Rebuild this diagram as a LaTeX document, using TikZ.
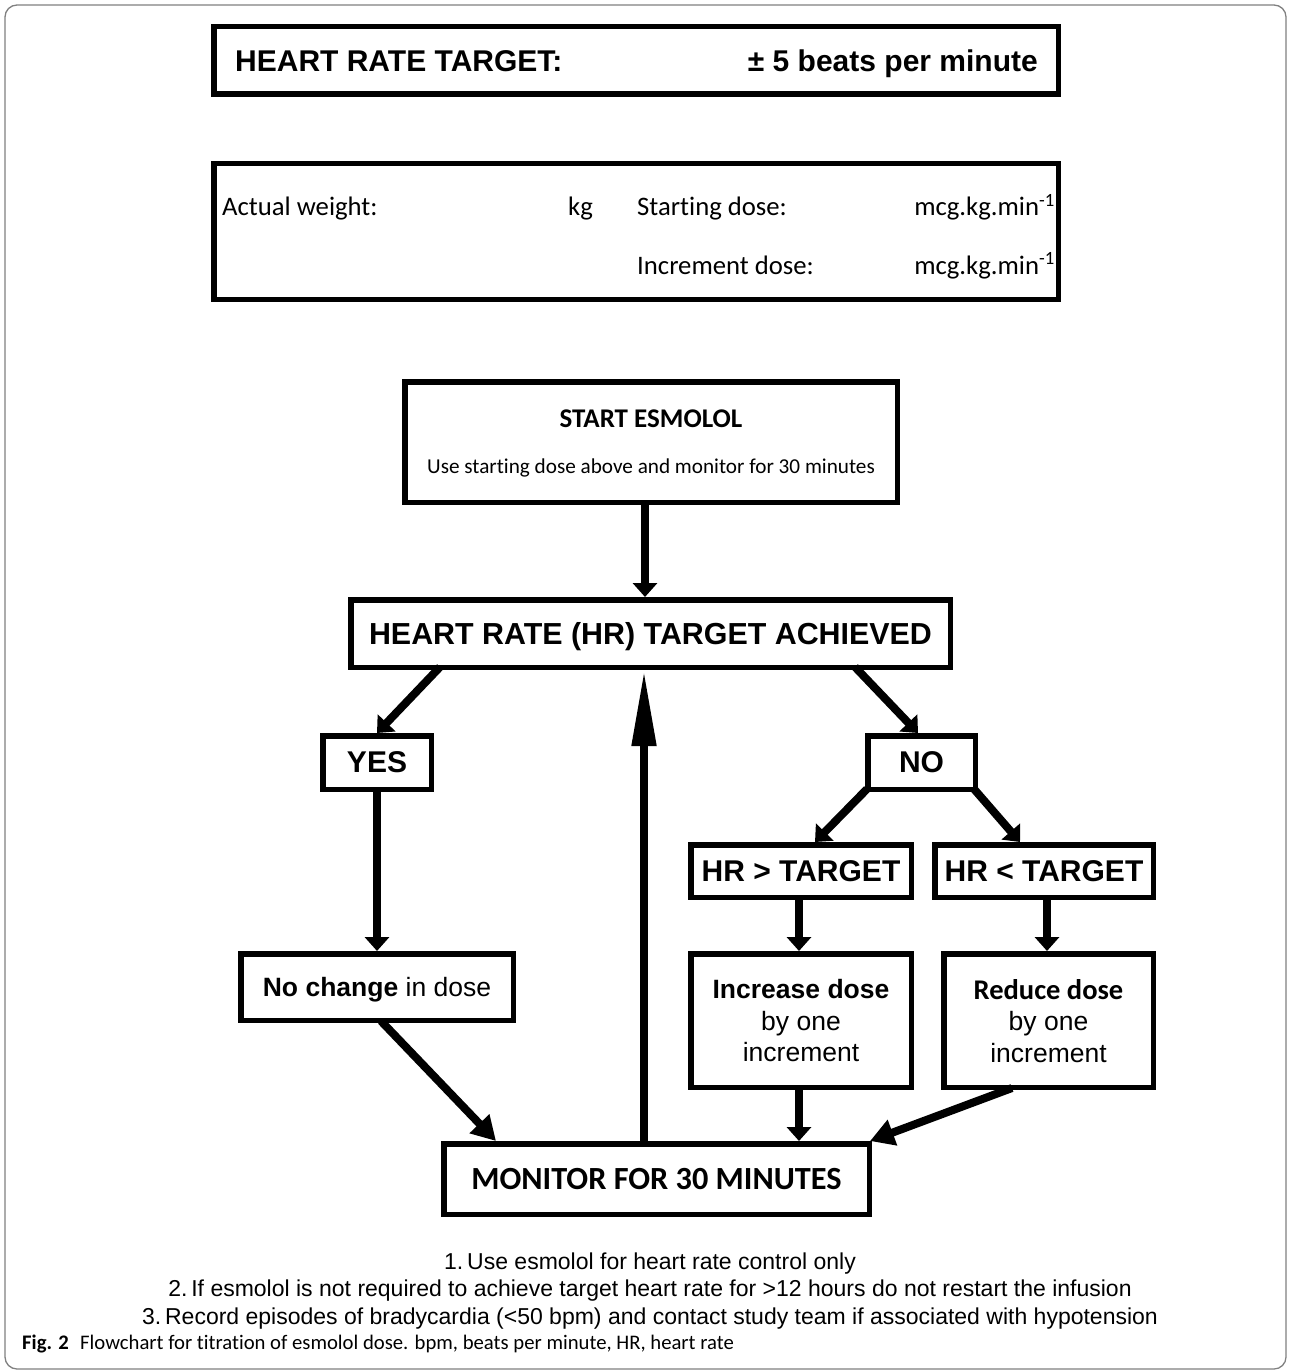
\documentclass[tikz,border=0pt]{standalone}
\usepackage{fontspec}
\setmainfont{Liberation Sans}
\newfontfamily\calfont[Ligatures=NoCommon]{Carlito}
\usetikzlibrary{arrows.meta}
\begin{document}
\begin{tikzpicture}[x=1pt,y=-1pt,
  box/.style={draw, line width=5.5pt, inner sep=0pt, align=center, text depth=0pt},
  txt/.style={inner sep=0pt},
  arr/.style={line width=8pt, -{Triangle[length=14pt,width=24pt]}},
  longarr/.style={line width=8pt, -{Triangle[length=76pt,width=23pt]}},
  midarr/.style={line width=8pt, -{Triangle[length=24pt,width=26pt]}},
  bigA/.style={font=\fontsize{30}{36}\selectfont\bfseries},
  calA/.style={font=\calfont\fontsize{26.7}{32}\selectfont},
  bodyA/.style={font=\fontsize{26.5}{31.5}\selectfont},
  noteA/.style={font=\fontsize{23}{27}\selectfont}
]
\useasboundingbox (0,0) rectangle (1290,1372);
\draw[black!50, line width=1.3pt, rounded corners=12pt] (5,5) rectangle (1286,1369);

% top boxes
\node[box, minimum width=844.5pt, minimum height=67.5pt] (top) at (636,60.5) {};
\node[txt, bigA, anchor=base west] (toplabel) at (235,71.5) {HEART RATE TARGET:};
\node[txt, bigA, anchor=base east] (topvalue) at (1038,71.5) {± 5 beats per minute};

\node[box, minimum width=844.5pt, minimum height=135.5pt] (dose) at (636,231.5) {};
\node[txt, calA, anchor=base west] (aw) at (222,216) {Actual weight:};
\node[txt, calA, anchor=base west] (kg) at (568,216) {kg};
\node[txt, calA, anchor=base west] (sd) at (637,216) {Starting dose:};
\node[txt, calA, anchor=base east] (u1) at (1055,216) {mcg.kg.min\textsuperscript{-1}};
\node[txt, calA, anchor=base west] (idose) at (637,274) {Increment dose:};
\node[txt, calA, anchor=base east] (u2) at (1055,274) {mcg.kg.min\textsuperscript{-1}};

% flowchart boxes
\node[box, minimum width=492.5pt, minimum height=120.5pt] (start) at (651,442) {};
\node[txt, anchor=base, font=\calfont\fontsize{27}{32}\selectfont\bfseries] (st1) at (651,427) {START ESMOLOL};
\node[txt, anchor=base, font=\calfont\fontsize{21.2}{26}\selectfont] (st2) at (651,473) {Use starting dose above and monitor for 30 minutes};

\node[box, font=\fontsize{30.4}{36}\selectfont\bfseries, minimum width=599.5pt, minimum height=67.5pt] (hr) at (650.5,633.5) {HEART RATE (HR) TARGET ACHIEVED};
\node[box, bigA, minimum width=108.5pt, minimum height=53.5pt] (yes) at (377,762.5) {YES};
\node[box, bigA, minimum width=107.5pt, minimum height=53.5pt] (no) at (921.5,762.5) {NO};
\node[box, bigA, minimum width=220.5pt, minimum height=52.5pt] (gt) at (801,871) {HR {>} TARGET};
\node[box, bigA, minimum width=218.5pt, minimum height=52.5pt] (lt) at (1044,871) {HR {<} TARGET};
\node[box, bodyA, minimum width=272.5pt, minimum height=66.5pt] (nochange) at (377,987) {\textbf{No change} in dose};
\node[box, bodyA, minimum width=220.5pt, minimum height=133.5pt] (inc) at (801,1020.5) {\textbf{Increase dose}\\by one\\increment};
\node[box, bodyA, minimum width=209.5pt, minimum height=133.5pt] (red) at (1048.5,1020.5) {{\calfont\bfseries\fontsize{28.5}{31.5}\selectfont Reduce dose}\\by one\\increment};
\node[box, font=\calfont\fontsize{32.3}{38}\selectfont\bfseries, minimum width=425.5pt, minimum height=70.5pt] (mon) at (656.5,1179) {MONITOR FOR 30 MINUTES};

% connectors
\draw[arr] ([xshift=-6pt]start.south) -- ([xshift=-6pt]start.south |- hr.north);
\draw[arr] ([xshift=92pt,yshift=3pt]hr.south west) -- (yes.north);
\draw[arr] ([xshift=-98pt,yshift=3pt]hr.south east) -- ([xshift=-3.5pt]no.north);
\draw[arr] (yes.south) -- (nochange.north);
\draw[arr] ([xshift=2pt,yshift=3pt]no.south west) -- ([xshift=14pt]gt.north);
\draw[arr] ([xshift=-4pt,yshift=3pt]no.south east) -- ([xshift=-24pt]lt.north);
\draw[arr] ([xshift=-2pt]gt.south) -- ([xshift=-2pt]inc.north);
\draw[arr] ([xshift=3pt]lt.south) -- ([xshift=3pt]lt.south |- red.north);
\draw[arr] ([xshift=-2pt]inc.south) -- ([xshift=-2pt]inc.south |- mon.north);
\draw[midarr] ([xshift=71pt,yshift=2pt]red.south west) -- ([xshift=-2pt]mon.north east);
\draw[midarr] ([xshift=4pt,yshift=2pt]nochange.south) -- ([xshift=55pt]mon.north west);
\draw[longarr] ([xshift=-12.5pt]mon.north) -- ([xshift=-12.5pt]mon.north |- hr.south);

% notes
\node[txt, noteA, anchor=base] (n1) at (650,1269) {1.\,Use esmolol for heart rate control only};
\node[txt, noteA, anchor=base] (n2) at (650,1296.5) {2.\,If esmolol is not required to achieve target heart rate for {>}12 hours do not restart the infusion};
\node[txt, noteA, anchor=base] (n3) at (650,1324) {3.\,Record episodes of bradycardia ({<}50 bpm) and contact study team if associated with hypotension};
\node[txt, anchor=base west, font=\calfont\fontsize{20.7}{24}\selectfont] (cap) at (22,1349) {\textbf{Fig. 2}\hspace{0.55em}Flowchart for titration of esmolol dose. bpm, beats per minute, HR, heart rate};
\end{tikzpicture}
\end{document}
